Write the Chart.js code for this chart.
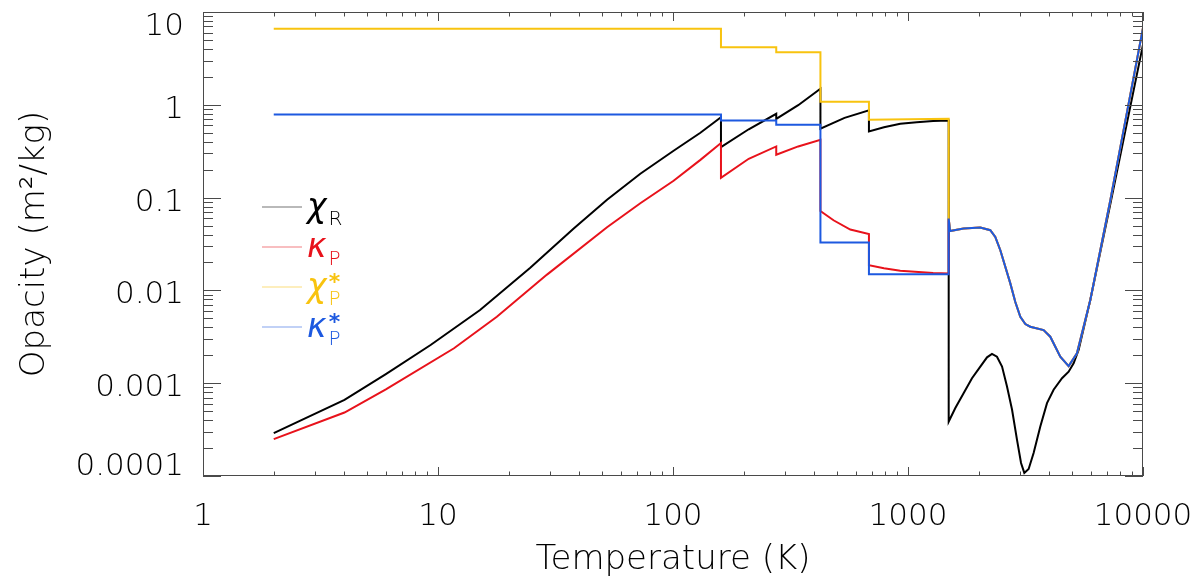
<!DOCTYPE html>
<html>
<head>
<meta charset="utf-8">
<script src="https://cdn.jsdelivr.net/npm/chart.js@4.4.1/dist/chart.umd.min.js"></script>
<style>
  html, body { margin: 0; padding: 0; background: #fff; }
  #wrap { width: 1200px; height: 581px; }
</style>
</head>
<body>
<div id="wrap"><canvas id="opacityChart" width="1200" height="581"></canvas></div>
<script>
// axis ticks
const xTickVals = [1, 10, 100, 1000, 10000];
const xTickLabels = ['1', '10', '100', '1000', '10000'];
const yTickVals = [0.0001, 0.001, 0.01, 0.1, 1, 10];
const yTickLabels = ['0.0001', '0.001', '0.01', '0.1', '1', '10'];

// chi_R (Rosseland mean), black
const chiRT = [2, 4, 6, 9.3, 15.1, 24.7, 37.8, 52.4, 72.6, 100.6, 130.8, 160,
               160, 210, 275, 275, 341, 424, 424, 537, 682, 682,
               790, 927, 1089, 1279, 1490, 1490, 1590, 1724, 1872, 2031,
               2169, 2277, 2391, 2513, 2638, 2771, 2910, 3027, 3126, 3261,
               3424, 3656, 3904, 4165, 4523, 4826, 5067, 5321, 5967, 7261,
               10000];
const chiRV = [2.9e-4, 6.6e-4, 1.25e-3, 2.58e-3, 6.14e-3, 0.0175, 0.0464, 0.095, 0.181, 0.32, 0.50, 0.736,
               0.35, 0.545, 0.80, 0.706, 0.99, 1.49, 0.552, 0.724, 0.87, 0.516,
               0.574, 0.625, 0.65, 0.667, 0.678, 3.86e-4, 5.4e-4, 7.8e-4, 1.13e-3, 1.51e-3,
               1.9e-3, 2.07e-3, 1.93e-3, 1.51e-3, 9.2e-4, 5.2e-4, 2.45e-4, 1.38e-4, 1.08e-4, 1.19e-4,
               1.77e-4, 3.41e-4, 6.1e-4, 8.5e-4, 1.13e-3, 1.33e-3, 1.64e-3, 2.28e-3, 7.87e-3, 0.085,
               4.45];

// kappa_P (Planck mean), red, below 1500 K
const kapPT = [2, 4, 6, 11.7, 17.8, 29.1, 52.4, 72.6, 100.6, 130.8, 160,
               160, 210, 275, 275, 341, 424, 424, 482, 568, 682,
               682, 790, 927, 1279, 1490];
const kapPV = [2.5e-4, 4.83e-4, 8.6e-4, 2.38e-3, 5.2e-3, 0.0148, 0.048, 0.087, 0.152, 0.255, 0.387,
               0.163, 0.262, 0.356, 0.29, 0.356, 0.42, 0.0718, 0.057, 0.0453, 0.0405,
               0.0187, 0.0173, 0.0163, 0.0154, 0.0152];

// chi_P* , yellow, below 1500 K
const chiPsT = [2, 160, 160, 275, 275, 424, 424, 682, 682, 1490];
const chiPsV = [6.61, 6.61, 4.16, 4.16, 3.68, 3.68, 1.08, 1.08, 0.69, 0.706];

// kappa_P* , blue, below 1500 K
const kapPsT = [2, 160, 160, 275, 275, 424, 424, 682, 682, 1490];
const kapPsV = [0.787, 0.787, 0.678, 0.678, 0.61, 0.61, 0.0328, 0.0328, 0.0149, 0.0149];

// above 1500 K the Planck curves lie on top of each other
const hiT = [1490, 1510, 1724, 2031, 2240, 2352, 2471, 2725, 2862, 3006,
             3157, 3314, 3776, 4031, 4446, 4826, 5236, 5967, 7261, 10000];
const hiV = [0.0594, 0.0437, 0.0464, 0.0476, 0.0445, 0.0377, 0.0271, 0.0119, 7.5e-3, 5.2e-3,
             4.34e-3, 4.06e-3, 3.74e-3, 3.17e-3, 1.93e-3, 1.53e-3, 2.1e-3, 7.87e-3, 0.0935, 6.73];

const BLACK = '#000000';
const RED = '#e8121b';
const YELLOW = '#f8c30f';
const BLUE = '#1d59e0';

const FONT = '"DejaVu Sans", sans-serif';
const axisFont = { family: FONT, size: 31, weight: 200 };
const titleFont = { family: FONT, size: 34, weight: 200 };

function pts(t, v) {
    return t.map((x, i) => ({ x: x, y: v[i] }));
}

function series(label, points, color, order) {
    return {
        label: label,
        data: points,
        showLine: true,
        borderColor: color,
        backgroundColor: color,
        borderWidth: 2,
        pointRadius: 0,
        fill: false,
        tension: 0,
        order: order
    };
}

// keep the end labels of the y axis inside the frame, like the original
const innerYLabels = {
    id: 'innerYLabels',
    beforeDraw(chart) {
        const y = chart.scales.y;
        if (!y.getLabelItems) return;
        const items = y.getLabelItems();
        if (!items || !items.length) return;
        items[0].options.translation[1] -= 14;
        items[items.length - 1].options.translation[1] += 10;
    }
};

// box with inward ticks on all four sides, IDL style
const frameTicks = {
    id: 'frameTicks',
    afterDatasetsDraw(chart) {
        const { ctx, chartArea: a, scales: { x, y } } = chart;
        ctx.save();
        ctx.strokeStyle = '#4a4a4a';
        ctx.lineWidth = 1;
        ctx.strokeRect(a.left + 0.5, a.top + 0.5, a.width - 1, a.height - 1);
        ctx.beginPath();
        for (let k = 0; k <= 4; k++) {
            for (let m = 1; m <= 9; m++) {
                const v = m * Math.pow(10, k);
                if (v > 10000) break;
                const px = Math.round(x.getPixelForValue(v)) + 0.5;
                const len = m === 1 ? 9 : 4.5;
                ctx.moveTo(px, a.bottom); ctx.lineTo(px, a.bottom - len);
                ctx.moveTo(px, a.top); ctx.lineTo(px, a.top + len);
            }
        }
        for (let k = -4; k <= 1; k++) {
            for (let m = 1; m <= 9; m++) {
                const v = m * Math.pow(10, k);
                if (v > 10.0001) break;
                const py = Math.round(y.getPixelForValue(v)) + 0.5;
                const len = m === 1 ? 18 : 10;
                ctx.moveTo(a.left, py); ctx.lineTo(a.left + len, py);
                ctx.moveTo(a.right, py); ctx.lineTo(a.right - len, py);
            }
        }
        ctx.stroke();
        ctx.restore();
    }
};

// legend with greek symbols, sub- and superscripts
const legendItems = [
    { sym: 'χ', sub: 'R', star: false, color: BLACK },
    { sym: 'κ', sub: 'P', star: false, color: RED },
    { sym: 'χ', sub: 'P', star: true, color: YELLOW },
    { sym: 'κ', sub: 'P', star: true, color: BLUE }
];

const greekLegend = {
    id: 'greekLegend',
    afterDraw(chart) {
        const { ctx, chartArea: a } = chart;
        const x0 = a.left + 59;
        const y0 = a.top + 195;
        ctx.save();
        legendItems.forEach((it, i) => {
            const yy = y0 + i * 40;
            ctx.beginPath();
            ctx.strokeStyle = it.color;
            ctx.globalAlpha = 0.55;
            ctx.lineWidth = 1.2;
            ctx.moveTo(x0, yy);
            ctx.lineTo(x0 + 40, yy);
            ctx.stroke();
            ctx.globalAlpha = 1;

            ctx.fillStyle = it.color;
            ctx.textAlign = 'left';
            ctx.textBaseline = 'alphabetic';
            ctx.font = 'italic 200 33px ' + FONT;
            const sx = x0 + 45;
            ctx.fillText(it.sym, sx, yy + 10);
            const w = ctx.measureText(it.sym).width;
            ctx.font = '200 20px ' + FONT;
            const subX = sx + w + 2;
            ctx.fillText(it.sub, subX, yy + 18);
            if (it.star) {
                const pw = ctx.measureText(it.sub).width;
                ctx.font = 'bold 22px ' + FONT;
                ctx.textAlign = 'center';
                ctx.fillText('*', subX + pw / 2, yy + 2);
            }
        });
        ctx.restore();
    }
};

const ctx = document.getElementById('opacityChart').getContext('2d');
new Chart(ctx, {
    type: 'scatter',
    data: {
        datasets: [
            series('χR', pts(chiRT, chiRV), BLACK, 4),
            series('κP', pts(kapPT.concat(hiT), kapPV.concat(hiV)), RED, 3),
            series('χP*', pts(chiPsT.concat(hiT), chiPsV.concat(hiV)), YELLOW, 2),
            series('κP*', pts(kapPsT.concat(hiT), kapPsV.concat(hiV)), BLUE, 1)
        ]
    },
    options: {
        responsive: false,
        animation: false,
        layout: { padding: { top: 12, right: 57, left: 0, bottom: 0 } },
        plugins: {
            legend: { display: false },
            tooltip: { enabled: false }
        },
        scales: {
            x: {
                type: 'logarithmic',
                min: 1,
                max: 10000,
                grid: { display: false },
                border: { display: false },
                ticks: {
                    font: axisFont,
                    color: '#000',
                    padding: 14,
                    maxRotation: 0,
                    autoSkip: false,
                    callback: (v, i) => xTickLabels[i]
                },
                afterBuildTicks: s => { s.ticks = xTickVals.map(v => ({ value: v })); },
                afterFit: s => { s.height = 105; s.paddingLeft = 0; s.paddingRight = 0; },
                title: {
                    display: true,
                    text: 'Temperature (K)',
                    font: titleFont,
                    color: '#000',
                    padding: { top: 0, bottom: 0 }
                }
            },
            y: {
                type: 'logarithmic',
                min: 0.0001,
                max: 10,
                grid: { display: false },
                border: { display: false },
                ticks: {
                    font: axisFont,
                    color: '#000',
                    padding: 11,
                    labelOffset: 5,
                    autoSkip: false,
                    callback: (v, i) => yTickLabels[i]
                },
                afterBuildTicks: s => { s.ticks = yTickVals.map(v => ({ value: v })); },
                afterFit: s => { s.width = 203; s.paddingTop = 0; s.paddingBottom = 0; },
                title: {
                    display: true,
                    text: 'Opacity (m²/kg)',
                    font: titleFont,
                    color: '#000',
                    padding: { top: 15, bottom: 0 }
                }
            }
        }
    },
    plugins: [innerYLabels, frameTicks, greekLegend]
});
</script>
</body>
</html>
